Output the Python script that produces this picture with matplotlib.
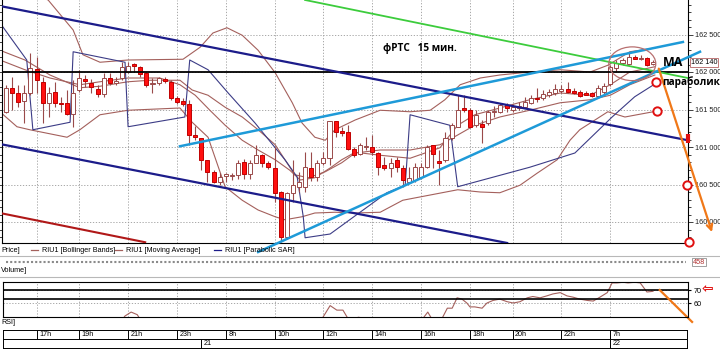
import matplotlib
matplotlib.use("Agg")
import matplotlib.pyplot as plt
from matplotlib.patches import Ellipse
from matplotlib.ticker import FixedLocator, MultipleLocator, FuncFormatter

plt.rcParams['font.family'] = ['Liberation Sans Narrow', 'Liberation Sans', 'DejaVu Sans']

# --- candles (15 min bars, RIU1) ---
opens = [161470, 161790, 161720, 161610, 161720, 162040, 161870, 161590, 161730, 161590,
         161590, 161440, 161760, 161910, 161850, 161770, 161710, 161920, 161850, 161920,
         162000, 162110, 162070, 161990, 161840, 161850, 161910, 161870, 161650, 161610,
         161570, 161160, 161120, 160830, 160670, 160530, 160610, 160620, 160630, 160800,
         160640, 160790, 160890, 160790, 160720, 160400, 159800, 160390, 160470, 160470,
         160720, 160600, 160790, 160850, 161350, 161210, 161200, 160970, 160910, 161000,
         161000, 160920, 160760, 160720, 160830, 160720, 160530, 160560, 160600, 160730,
         161030, 160810, 160830, 161120, 161270, 161520, 161490, 161290, 161310, 161320,
         161470, 161470, 161560, 161500, 161520, 161530, 161590, 161650, 161650, 161690,
         161720, 161750, 161770, 161750, 161730, 161720, 161720, 161680, 161730, 161840,
         162050, 162120, 162110, 162200, 162170, 162190, 162110]
highs = [161830, 161930, 161830, 161830, 162250, 162200, 161930, 161800, 161870, 161670,
         161760, 161890, 162030, 161960, 161910, 161830, 161990, 161990, 161930, 162130,
         162130, 162120, 162080, 162000, 161920, 161930, 161930, 161890, 161680, 161650,
         161630, 161280, 161120, 160830, 160690, 160650, 160650, 160650, 160830, 160840,
         160830, 161030, 160910, 160810, 161000, 160410, 160400, 160830, 160670, 160930,
         160930, 160830, 160930, 161350, 161350, 161270, 161290, 161000, 161050, 161130,
         161160, 160930, 160870, 160850, 160870, 160760, 160730, 160790, 160790, 161030,
         161030, 160960, 161200, 161320, 161690, 161690, 161520, 161490, 161360, 161490,
         161550, 161590, 161590, 161580, 161600, 161670, 161690, 161790, 161760, 161780,
         161840, 161830, 161870, 161790, 161760, 161750, 161740, 161830, 161850, 162090,
         162160, 162190, 162250, 162230, 162230, 162200, 162160]
lows = [161450, 161490, 161530, 161320, 161690, 161720, 161320, 161400, 161530, 161470,
        161430, 161270, 161730, 161800, 161720, 161670, 161670, 161830, 161830, 161890,
        161990, 162000, 161930, 161800, 161720, 161830, 161850, 161630, 161570, 161550,
        161030, 161090, 160690, 160530, 160520, 160500, 160530, 160560, 160570, 160570,
        160570, 160790, 160740, 160710, 160270, 159730, 159780, 160270, 160400, 160400,
        160550, 160550, 160760, 160760, 161130, 161150, 160960, 160870, 160890, 160960,
        160890, 160630, 160690, 160600, 160670, 160470, 160520, 160530, 160570, 160720,
        160720, 160490, 160800, 161090, 161270, 161470, 161250, 161270, 161050, 161290,
        161400, 161450, 161470, 161470, 161490, 161520, 161570, 161600, 161630, 161670,
        161690, 161720, 161720, 161710, 161670, 161690, 161670, 161670, 161710, 161810,
        162000, 162100, 162090, 162170, 162160, 162080, 162090]
closes = [161790, 161720, 161600, 161720, 162050, 161890, 161590, 161720, 161590, 161570,
          161440, 161720, 161920, 161880, 161800, 161710, 161920, 161850, 161880, 162070,
          162080, 162080, 161970, 161830, 161850, 161920, 161880, 161650, 161600, 161570,
          161160, 161130, 160830, 160670, 160530, 160600, 160640, 160630, 160790, 160640,
          160790, 160890, 160790, 160730, 160390, 159800, 160390, 160490, 160530, 160730,
          160600, 160790, 160850, 161350, 161200, 161190, 160970, 160890, 161030, 161010,
          160930, 160730, 160720, 160790, 160730, 160560, 160590, 160730, 160730, 161000,
          160910, 160790, 161120, 161290, 161490, 161490, 161270, 161430, 161270, 161470,
          161480, 161560, 161520, 161540, 161550, 161600, 161650, 161640, 161710, 161730,
          161770, 161770, 161730, 161720, 161680, 161700, 161680, 161790, 161810, 162070,
          162120, 162160, 162200, 162170, 162190, 162090, 162140]

# --- indicators (bar index, price) ---
bb_up_x = [-1.0, 6.9, 11.0, 12.6, 15.4, 20.0, 29.0, 31.8, 33.9, 36.2, 38.7, 41.3, 44.1, 46.9,
           48.5, 50.6, 52.3, 53.9, 57.2, 61.3, 66.2, 69.5, 71.9, 74.4, 77.7, 80.9, 85.8, 90.8,
           95.7, 98.6, 102.2, 106.3]
bb_up_y = [163230, 162960, 162560, 162230, 162130, 162160, 162170, 162330, 162520, 162590,
           162490, 162290, 161990, 161590, 161320, 161130, 161090, 161230, 161360, 161490,
           161470, 161490, 161630, 161830, 161920, 161960, 162000, 162030, 162000, 162090,
           162270, 162320]
bb_mid_x = [-1.0, 3.1, 7.2, 12.1, 15.4, 20.0, 23.6, 28.5, 30.5, 33.1, 35.9, 38.7, 41.3, 44.1,
            45.7, 47.3, 49.5, 52.3, 55.0, 57.2, 61.3, 66.2, 71.1, 74.0, 76.8, 80.9, 85.8, 90.8,
            95.7, 99.0, 102.2, 106.3]
bb_mid_y = [162290, 162160, 161960, 161790, 161810, 161870, 161890, 161890, 161760, 161690,
            161530, 161400, 161230, 161030, 160830, 160630, 160590, 160670, 160790, 160920,
            160960, 160960, 161030, 161160, 161290, 161400, 161490, 161590, 161630, 161690,
            161830, 161960]
bb_low_x = [-1.0, 1.8, 3.9, 10.0, 12.1, 15.4, 20.0, 28.5, 30.5, 33.1, 35.9, 38.7, 41.3, 44.1,
            45.7, 48.5, 50.6, 53.9, 57.2, 61.3, 65.0, 69.5, 74.0, 77.7, 80.9, 84.2, 87.0, 90.3,
            92.4, 94.0, 98.6, 101.4, 106.7]
bb_low_y = [161470, 161270, 161230, 161130, 161230, 161430, 161490, 161520, 161330, 161130,
            160470, 160290, 160160, 160070, 160030, 160070, 160120, 160130, 160120, 160130,
            160290, 160360, 160430, 160400, 160390, 160490, 160650, 160830, 161090, 161230,
            161470, 161400, 161480]
ma_x = [-1.0, 3.1, 7.2, 12.1, 15.4, 20.0, 25.2, 28.5, 31.0, 33.4, 35.9, 38.7, 41.3, 44.1,
        46.5, 48.2, 50.6, 53.1, 55.0, 57.2, 61.3, 66.2, 71.1, 74.0, 76.8, 80.9, 85.8, 90.8,
        95.7, 99.0, 102.2, 106.3]
ma_y = [162160, 162030, 161920, 161830, 161870, 161920, 161920, 161830, 161690, 161490,
        161290, 161090, 160960, 160830, 160690, 160560, 160590, 160720, 160830, 160930,
        160890, 160850, 160990, 161290, 161430, 161520, 161630, 161720, 161690, 161830,
        162000, 162070]
sar_x = [-0.5, 3.4, 4.4, 10.5, 11.0, 19.5, 20.0, 29.3, 30.1, 33.1, 36.4, 40.8, 45.7, 47.7,
         48.7, 49.0, 53.1, 62.4, 65.4, 66.2, 72.7, 74.0, 85.8, 93.2, 99.3, 103.0, 106.3]
sar_y = [162600, 162160, 161230, 161330, 162270, 162130, 161270, 161400, 162160, 162030,
         161720, 161320, 160830, 160600, 160070, 159790, 159840, 160390, 160490, 161430,
         161290, 160470, 160730, 160920, 161400, 161670, 161840]

# RSI (only the part above ~49 is visible)
rsi_x = [18.7, 19.5, 20.5, 21.5, 22.3, 51.4, 53.1, 54.2, 55.2, 56.4, 57.7, 59.1, 60.0,
         67.8, 69.1, 70.1, 71.1, 72.3, 73.1, 73.9, 74.7, 75.5, 76.0, 76.8, 78.0, 78.8, 79.8,
         80.9, 82.1, 83.1, 84.2, 85.4, 86.3, 87.5, 88.6, 89.6, 90.8, 91.9, 92.9, 94.0, 95.2,
         96.2, 97.3, 98.5, 99.3, 100.1, 101.1, 101.9, 103.0, 103.9, 105.0, 106.0]
rsi_y = [45, 50, 53, 51, 45, 45, 58, 54.5, 54.5, 45, 49, 48, 44,
         45, 53, 45, 45, 56, 56, 64, 63, 60, 57, 57, 56, 60, 62,
         63, 61, 60, 61, 64, 65, 64, 65.5, 67, 68, 65.5, 64.5, 63, 62,
         61.5, 64.5, 68, 75.5, 75.5, 76, 75.5, 76, 75.5, 68.5, 69]

# drawn objects (bar, price) endpoints
navy_top = ([-1.0, 111.7], [162880, 161090])
navy_low = ([-1.0, 82.1], [161040, 159720])
red_line = ([-1.0, 22.8], [160120, 159730])
green_line = ([49.0, 111.7], [162960, 161920])
blue_top = ([28.5, 110.9], [161010, 162400])
blue_low = ([41.3, 113.7], [159600, 162270])
orange_main = ([106.8, 115.8], [162080, 159830])
circle_x = [106.5, 106.7, 111.6, 111.9]
circle_y = [161870, 161480, 160490, 159730]

time_ticks = [5, 12, 20, 28, 36, 44, 52, 60, 68, 76, 83, 91, 99]
time_labels = ['17h', '19h', '21h', '23h', '8h', '10h', '12h', '14h', '16h', '18h', '20h', '22h', '7h']
day_ticks = [32, 99]
day_labels = ['21', '22']

BAND = '#a4605c'
NAVY = '#1c1c8a'
LBLUE = '#1e9ad8'
W, H = 720, 350
PX = 6.104  # pixels per bar
FS = 5.2


def box(l, t, r, b):
    return [l / W, 1 - b / H, (r - l) / W, (b - t) / H]


def xl(l, r):
    return ((l - 6) / PX, (r - 6) / PX)


fig = plt.figure(figsize=(7.2, 3.5), dpi=100)
fig.patch.set_facecolor('white')

# ---------- price panel ----------
ax = fig.add_axes(box(2, 0, 688, 243))
ax.set_xlim(*xl(2, 688))
ax.set_ylim(159720, 162960)

n = len(closes)
idx = list(range(n))
ax.vlines(idx, lows, highs, color='#9a4a4a', lw=0.8, zorder=3)
for i in idx:
    o, c = opens[i], closes[i]
    up = c >= o
    ax.bar(i, max(abs(c - o), 12), bottom=min(o, c), width=0.66,
           facecolor='white' if up else '#ff1010',
           edgecolor='#9a4a4a' if up else '#c00000', lw=0.7, zorder=4)

ax.plot(bb_up_x, bb_up_y, color=BAND, lw=0.8, zorder=2)
ax.plot(bb_mid_x, bb_mid_y, color=BAND, lw=0.8, zorder=2)
ax.plot(bb_low_x, bb_low_y, color=BAND, lw=0.8, zorder=2)
ax.plot(ma_x, ma_y, color=BAND, lw=0.8, zorder=2)
ax.plot(sar_x, sar_y, color='#3c3c86', lw=0.8, zorder=2)

ax.axhline(162000, color='black', lw=1.3, zorder=5)
ax.plot(*navy_top, color=NAVY, lw=1.6, zorder=5)
ax.plot(*navy_low, color=NAVY, lw=1.6, zorder=5)
ax.plot(*red_line, color='#b01818', lw=1.5, zorder=5)
ax.plot(*green_line, color='#3ccc3c', lw=1.3, zorder=5)
ax.plot(*blue_top, color=LBLUE, lw=1.8, zorder=6)
ax.plot(*blue_low, color=LBLUE, lw=1.8, zorder=6, clip_on=False)
ax.annotate('', xy=(orange_main[0][1], orange_main[1][1]),
            xytext=(orange_main[0][0], orange_main[1][0]),
            arrowprops=dict(arrowstyle='->', color='#f07818', lw=1.6, mutation_scale=10),
            annotation_clip=False, zorder=7)
ax.plot(circle_x, circle_y, 'o', ms=6, mfc='white', mec='#e01010', mew=1.4,
        clip_on=False, zorder=8)
ax.vlines(111.7, 161050, 161170, color='#e01010', lw=3, clip_on=False, zorder=8)
ax.add_patch(Ellipse((102.6, 162110), 7.7, 450, fill=False, ec='#b87070', lw=0.9, zorder=6))

ax.text(61.8, 162320, 'фРТС   15 мин.', fontsize=7.2, fontweight='bold',
        family=['Open Sans', 'DejaVu Sans'], va='center', zorder=9)
ax.text(107.6, 162130, 'MA', fontsize=9, fontweight='bold', va='center', zorder=9,
        family=['Open Sans', 'DejaVu Sans'])
ax.text(107.5, 161870, 'параболик', fontsize=7.3, fontweight='bold', va='center', zorder=9,
        family=['Open Sans', 'DejaVu Sans'])

ax.yaxis.tick_right()
ax.yaxis.set_major_locator(MultipleLocator(500))
ax.yaxis.set_minor_locator(MultipleLocator(100))
ax.yaxis.set_major_formatter(FuncFormatter(lambda v, p: f"{v:,.0f}".replace(',', ' ')))
ax.tick_params(axis='y', which='both', left=True, right=True, labelsize=FS, pad=1.2,
               length=2.5, width=0.6, colors='#202020')
ax.tick_params(axis='y', which='major', length=3.5)
ax.xaxis.set_major_locator(FixedLocator(time_ticks))
ax.tick_params(axis='x', length=0, labelbottom=False)
ax.grid(True, which='major', ls=(0, (1.5, 2)), color='#9a9a9a', lw=0.6)
ax.spines['top'].set_visible(False)
for s in ['left', 'right', 'bottom']:
    ax.spines[s].set_linewidth(0.8)
ax.annotate('162 140', xy=(1.004, 162130), xycoords=('axes fraction', 'data'),
            fontsize=FS, va='center', ha='left',
            bbox=dict(boxstyle='square,pad=0.12', fc='white', ec='#c07878', lw=0.7))

# ---------- legend / scroll / volume strip ----------
ly = 1 - 250 / H
fig.text(1 / W, ly, 'Price]', fontsize=FS, va='center')
for x0, txt, col in [(31, 'RIU1 [Bollinger Bands]', BAND),
                     (115, 'RIU1 [Moving Average]', BAND),
                     (214, 'RIU1 [Parabolic SAR]', NAVY)]:
    fig.add_artist(plt.Line2D([x0 / W, (x0 + 7) / W], [ly, ly], color=col, lw=0.9))
    fig.text((x0 + 11) / W, ly, txt, fontsize=FS, va='center')
for yy in (256, 277):
    fig.add_artist(plt.Line2D([0, 1], [1 - yy / H, 1 - yy / H], color='#b8b8b8', lw=0.8))
fig.add_artist(plt.Line2D([6 / W, 686 / W], [1 - 262 / H] * 2, color='#8a8a8a',
                          lw=1.5, ls=(0, (1, 1))))
fig.text(699 / W, 1 - 262 / H, '458', fontsize=FS, color='#b03030', ha='center',
         va='center', bbox=dict(boxstyle='square,pad=0.12', fc='white', ec='#909090', lw=0.6))
fig.text(1 / W, 1 - 271 / H, 'Volume]', fontsize=FS, va='center')
fig.text(1 / W, 1 - 323 / H, 'RSI]', fontsize=FS, va='center')

# ---------- RSI panel ----------
rx = fig.add_axes(box(3, 282, 688, 317))
rx.set_xlim(*xl(3, 688))
rx.set_ylim(49.2, 76.2)
rx.plot(rsi_x, rsi_y, color=BAND, lw=0.8)
rx.axhline(70, color='black', lw=1.2)
rx.axhline(63.1, color='black', lw=1.2)
rx.yaxis.tick_right()
rx.yaxis.set_major_locator(FixedLocator([60, 70]))
rx.xaxis.set_major_locator(FixedLocator(time_ticks))
rx.tick_params(axis='y', labelsize=FS, length=2, pad=2)
rx.tick_params(axis='x', length=0, labelbottom=False)
rx.grid(True, ls=(0, (1.5, 2)), color='#9a9a9a', lw=0.6)
for s in rx.spines.values():
    s.set_linewidth(0.8)
rx.plot([107.1, 112.4], [70, 45.4], color='#f07818', lw=1.6, clip_on=False)
fig.text(707 / W, 1 - 289 / H, '⇦', fontsize=10, color='#e01010', ha='center',
         va='center', family='DejaVu Sans', fontweight='bold')

# ---------- time axis ----------
tx = fig.add_axes(box(3, 330, 687, 348))
tx.set_xlim(*xl(3, 687))
tx.set_ylim(0, 2)
tx.axhline(1, color='black', lw=0.7)
tx.vlines(time_ticks, 1, 2, color='black', lw=0.7)
tx.vlines(day_ticks, 0, 1, color='black', lw=0.7)
for t, lab in zip(time_ticks, time_labels):
    tx.text(t + 0.4, 1.5, lab, fontsize=FS, va='center', ha='left')
for t, lab in zip(day_ticks, day_labels):
    tx.text(t + 0.4, 0.5, lab, fontsize=FS, va='center', ha='left')
tx.set_xticks([])
tx.set_yticks([])
for s in tx.spines.values():
    s.set_linewidth(0.7)

fig.savefig('out.png', dpi=100)
